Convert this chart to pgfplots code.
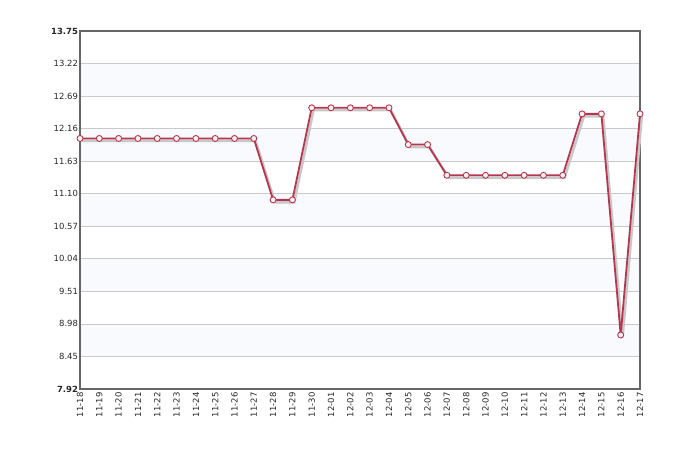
\documentclass[border=0pt]{standalone}
\usepackage{pgfplots}
\pgfplotsset{compat=1.18}
\usepackage{fontspec}
\setmainfont{DejaVu Sans}
\definecolor{linecol}{HTML}{B5364E}
\definecolor{markfill}{HTML}{FFF2F4}
\definecolor{band}{HTML}{F8FAFD}
\definecolor{framecol}{HTML}{666666}
\definecolor{gridcol}{HTML}{C9C9C9}
\definecolor{shadowcol}{HTML}{C8C8C8}
\begin{document}
\begin{tikzpicture}
\path (0,0) rectangle (693bp,462bp);
\begin{axis}[
 set layers,
 at={(80bp,73bp)},anchor=origin,
 scale only axis,width=560bp,height=358bp,
 xmin=0,xmax=29,ymin=7.92,ymax=13.75,
 axis line style={framecol,line width=2.2bp},
 xtick={0,...,29},
 xticklabels={11-18,11-19,11-20,11-21,11-22,11-23,11-24,11-25,11-26,11-27,11-28,11-29,11-30,12-01,12-02,12-03,12-04,12-05,12-06,12-07,12-08,12-09,12-10,12-11,12-12,12-13,12-14,12-15,12-16,12-17},
 x tick label style={rotate=90,anchor=east,font=\fontsize{8.5}{9}\selectfont,text=black!85},
 ytick={7.92,8.45,8.98,9.51,10.04,10.57,11.10,11.63,12.16,12.69,13.22,13.75},
 yticklabels={\textbf{7.92},8.45,8.98,9.51,10.04,10.57,11.10,11.63,12.16,12.69,13.22,\textbf{13.75}},
 y tick label style={font=\fontsize{8.5}{9}\selectfont,text=black!85,xshift=1.5bp},
 major tick length=0pt,
 ymajorgrids,grid style={gridcol,line width=0.8bp},
 clip=false,
]
\begin{pgfonlayer}{axis background}
\fill[band] (axis cs:0,12.69) rectangle (axis cs:29,13.22);
\fill[band] (axis cs:0,11.63) rectangle (axis cs:29,12.16);
\fill[band] (axis cs:0,10.57) rectangle (axis cs:29,11.10);
\fill[band] (axis cs:0,9.51) rectangle (axis cs:29,10.04);
\fill[band] (axis cs:0,8.45) rectangle (axis cs:29,8.98);
\end{pgfonlayer}
% shadow
\addplot[shadowcol,line width=2.6bp,mark=none,xshift=1.8bp,yshift=-2.4bp] table {
0 12.0
1 12.0
2 12.0
3 12.0
4 12.0
5 12.0
6 12.0
7 12.0
8 12.0
9 12.0
10 11.0
11 11.0
12 12.5
13 12.5
14 12.5
15 12.5
16 12.5
17 11.9
18 11.9
19 11.4
20 11.4
21 11.4
22 11.4
23 11.4
24 11.4
25 11.4
26 12.4
27 12.4
28 8.8
29 12.4
};
\addplot[linecol,line width=1.8bp,mark=*,mark size=3bp,
 mark options={fill=markfill,draw=linecol,line width=0.9bp}] table {
0 12.0
1 12.0
2 12.0
3 12.0
4 12.0
5 12.0
6 12.0
7 12.0
8 12.0
9 12.0
10 11.0
11 11.0
12 12.5
13 12.5
14 12.5
15 12.5
16 12.5
17 11.9
18 11.9
19 11.4
20 11.4
21 11.4
22 11.4
23 11.4
24 11.4
25 11.4
26 12.4
27 12.4
28 8.8
29 12.4
};
\end{axis}
\end{tikzpicture}
\end{document}
